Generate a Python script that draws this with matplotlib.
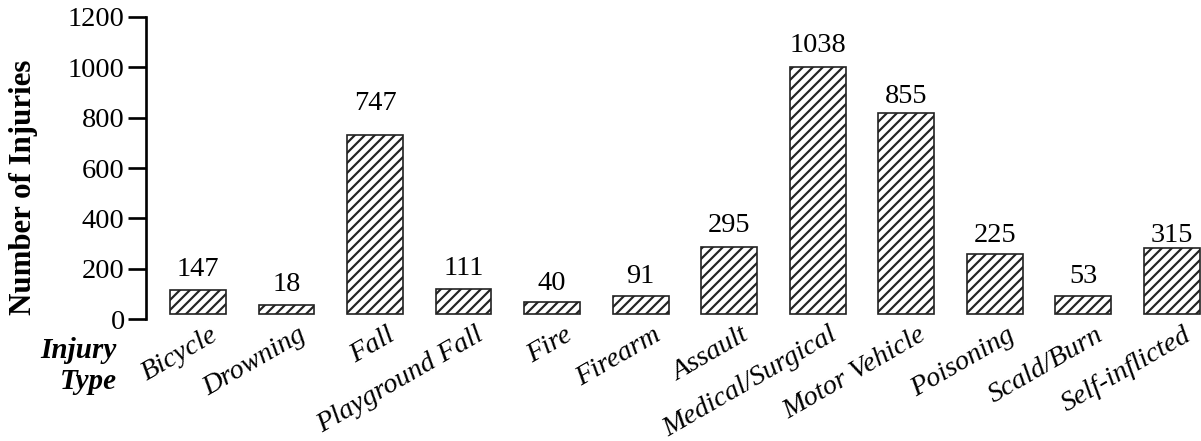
import matplotlib
matplotlib.use("Agg")
import matplotlib.pyplot as plt

# categories and values (labels as printed, bar tops as drawn in the picture)
categories = ["Bicycle", "Drowning", "Fall", "Playground Fall", "Fire", "Firearm",
              "Assault", "Medical/Surgical", "Motor Vehicle", "Poisoning",
              "Scald/Burn", "Self-inflicted"]
labels = [147, 18, 747, 111, 40, 91, 295, 1038, 855, 225, 53, 315]
bar_tops = [118, 56, 729, 120, 67, 93, 287, 999, 818, 257, 93, 281]
bar_base = 20
yticks = [0, 200, 400, 600, 800, 1000, 1200]

# gap between bar top and its number, in pixels (uneven in the original)
label_gap = [14, 14, 25, 14, 12, 13, 15, 15, 10, 12, 13, 6]

plt.rcParams["font.family"] = ["Liberation Serif", "DejaVu Serif"]
plt.rcParams["hatch.linewidth"] = 1.3

DPI = 120
PT = 72 / DPI  # points per pixel
fig = plt.figure(figsize=(1201 / DPI, 441 / DPI), dpi=DPI)
ax = fig.add_axes([146 / 1201, 1 - 319.3 / 441, 1 - 146 / 1201, (319.3 - 16.7) / 441])

x = list(range(len(categories)))
heights = [t - bar_base for t in bar_tops]
ax.bar(x, heights, bottom=bar_base, width=0.63, color="white",
       edgecolor="#222222", linewidth=1.0, hatch="////")

for i, (t, lab) in enumerate(zip(bar_tops, labels)):
    ax.annotate(str(lab), xy=(i, t), xytext=(0, label_gap[i] * PT),
                textcoords="offset points",
                ha="center", va="baseline", fontsize=17)

for i, c in enumerate(categories):
    ax.annotate(c, xy=(i, 0), xycoords=("data", "axes fraction"),
                xytext=(7, -2), textcoords="offset points",
                rotation=30, ha="right", va="top", rotation_mode="anchor",
                style="italic", fontsize=17)

ax.set_xlim(-0.588, 11.33)
ax.set_ylim(0, 1200)
ax.set_xticks([])
ax.set_yticks(yticks)
ax.tick_params(axis="y", length=10.8, width=1.6, pad=2, labelsize=17)
for s in ["top", "right", "bottom"]:
    ax.spines[s].set_visible(False)
ax.spines["left"].set_linewidth(1.6)
ax.set_facecolor("none")

fig.text(24 / 1201, 1 - 187 / 441, "Number of Injuries", rotation=90,
         ha="center", va="center", fontsize=18.5, fontweight="bold")
fig.text(117 / 1201, 1 - 337 / 441, "Injury\nType", ha="right", va="top",
         multialignment="right", fontsize=17.5, fontweight="bold", style="italic")

fig.savefig("out.png", dpi=DPI)
